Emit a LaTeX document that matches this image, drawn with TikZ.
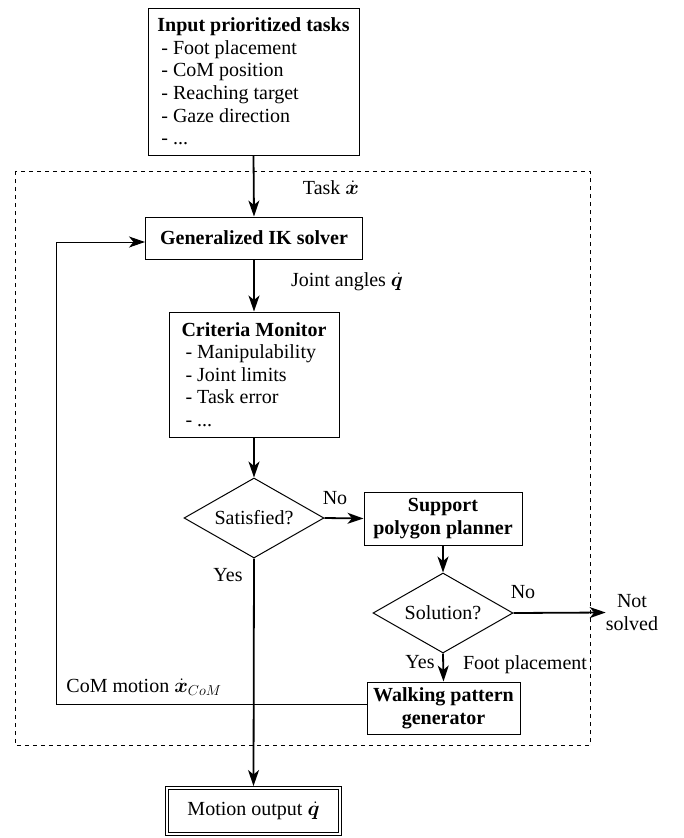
\documentclass[tikz,border=0pt]{standalone}
\usepackage{fontspec}
\setmainfont{Liberation Serif}
\usepackage{bm}
\usetikzlibrary{shapes.geometric,arrows.meta}
\tikzset{
  every node/.style={font=\fontsize{20}{22.6}\selectfont, text=black},
  box/.style={draw=black, line width=1pt, inner sep=3pt, align=center},
  dia/.style={draw=black, line width=1pt, shape=diamond, aspect=1.75, inner sep=0pt, minimum width=140pt, minimum height=80pt},
  arr/.style={line width=1.8pt, -{Stealth[length=16pt,width=11pt,inset=4.5pt]}},
  fb/.style={line width=1pt},
  fbarr/.style={line width=1pt, -{Stealth[length=16pt,width=11pt,inset=4.5pt]}},
  lbl/.style={inner sep=0pt},
  frame/.style={line width=0.9pt, dash pattern=on 4pt off 4pt}
}
\begin{document}
\begin{tikzpicture}[x=1pt,y=-1pt]
\useasboundingbox (0,0) rectangle (683,838);
\fill[white] (0,0) rectangle (683,838);
% dotted frame
\draw[frame] (15,171) rectangle (590,745);
% nodes
\node[box, align=left, minimum width=211pt, minimum height=147pt] (in) at (253.5,81.5)
  {\textbf{Input prioritized tasks}\\\hspace*{4pt}- Foot placement\\\hspace*{4pt}- CoM position\\\hspace*{4pt}- Reaching target\\\hspace*{4pt}- Gaze direction\\\hspace*{4pt}- ...};
\node[box, minimum width=217pt, minimum height=42pt] (ik) at (254,238) {\textbf{Generalized IK solver}};
\node[box, align=left, minimum width=170pt, minimum height=125pt] (cm) at (254,374.5)
  {\textbf{Criteria Monitor}\\\hspace*{4pt}- Manipulability\\\hspace*{4pt}- Joint limits\\\hspace*{4pt}- Task error\\\hspace*{4pt}- ...};
\node[dia] (sat) at (254,518) {Satisfied?};
\node[box, minimum width=158pt, minimum height=53pt] (sup) at (443,518.5) {\textbf{Support}\\\textbf{polygon planner}};
\node[dia] (sol) at (443,613) {Solution?};
\node[lbl, align=center] (ns) at (632,612.5) {Not\\solved};
\node[box, minimum width=153pt, minimum height=52pt] (walk) at (443.5,708) {\textbf{Walking pattern}\\\textbf{generator}};
\node[box, minimum width=176pt, minimum height=49pt] (out) at (253.5,811) {Motion output $\dot{\bm{q}}$};
\draw[line width=1pt] ([shift={(3.5,3.5)}]out.north west) rectangle ([shift={(-3.5,-3.5)}]out.south east);
% labels
\node[lbl] (task) at (331,188) {Task $\dot{\bm{x}}$};
\node[lbl] (joint) at (347,282) {Joint angles $\dot{\bm{q}}$};
\node[lbl] (no1) at (335,498) {No};
\node[lbl] (yes1) at (228,575) {Yes};
\node[lbl] (no2) at (523,592) {No};
\node[lbl] (yes2) at (420,662) {Yes};
\node[lbl] (foot) at (525,665) {Foot placement};
\node[lbl] (com) at (144,687) {CoM motion $\dot{\bm{x}}_{CoM}$};
% connectors
\draw[arr] (in.south) -- (ik.north);
\draw[arr] (ik.south) -- (cm.north);
\draw[arr] (cm.south) -- (sat.north);
\draw[arr] (sat.east) -- (sup.west);
\draw[arr] (sup.south) -- (sol.north);
\draw[arr] (sol.east) -- (ns.west);
\draw[arr] (sol.south) -- (walk.north);
\draw[arr] (sat.south) -- (out.north);
\coordinate (fbA) at (56,704);
\coordinate (fbB) at (56,242);
\draw[fb] (walk.west |- fbA) -- (fbA) -- (fbB);
\draw[fbarr] (fbB) -- (ik.west |- fbB);
\end{tikzpicture}
\end{document}
